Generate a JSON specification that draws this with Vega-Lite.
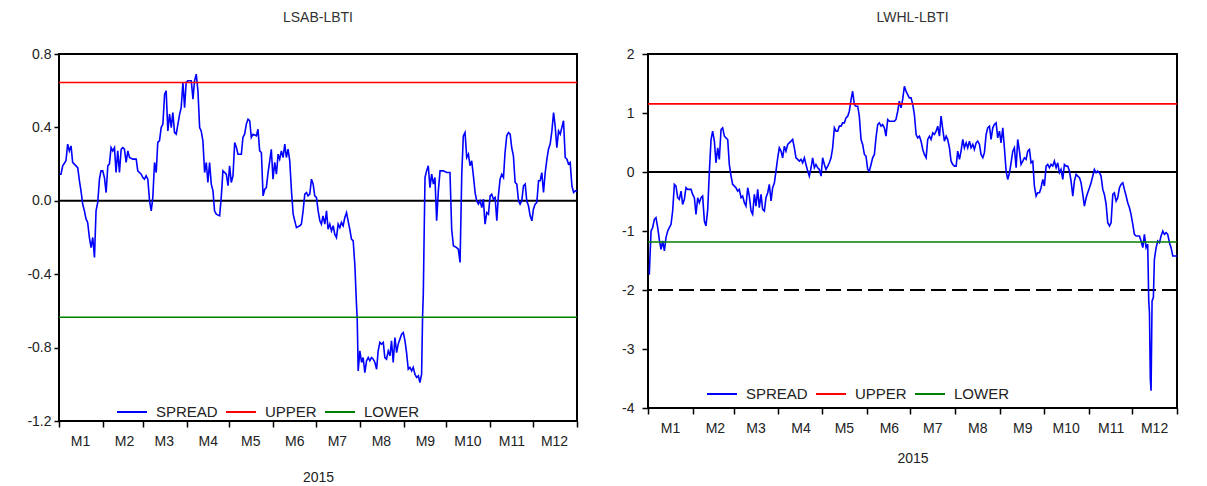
{
  "$schema": "https://vega.github.io/schema/vega-lite/v6.json",
  "padding": {"left": 5, "top": 10, "right": 5, "bottom": 0},
  "spacing": 18,
  "align": "none",
  "background": "white",
  "config": {
    "view": {"stroke": "black", "strokeWidth": 2},
    "axis": {"labelFont": "Liberation Sans", "labelFontSize": 14, "labelColor": "#222", "tickColor": "black", "tickWidth": 1.5, "titleFont": "Liberation Sans", "titleFontSize": 14, "titleFontWeight": "normal", "titleColor": "#222", "grid": false, "domain": false},
    "title": {"font": "Liberation Sans", "fontSize": 14, "fontWeight": "normal", "color": "#333"}
  },
  "resolve": {"scale": {"color": "independent"}, "legend": {"color": "independent"}},
  "datasets": {
    "left": [
      {"d":0.5,"v":0.145,"s":"SPREAD"},{"d":1.4,"v":0.145,"s":"SPREAD"},{"d":2.6,"v":0.191,"s":"SPREAD"},{"d":4.9,"v":0.218,"s":"SPREAD"},{"d":6.1,"v":0.309,"s":"SPREAD"},{"d":7.3,"v":0.272,"s":"SPREAD"},{"d":8.5,"v":0.299,"s":"SPREAD"},{"d":9.6,"v":0.209,"s":"SPREAD"},{"d":10.8,"v":0.2,"s":"SPREAD"},{"d":13.2,"v":0.181,"s":"SPREAD"},{"d":14.4,"v":0.109,"s":"SPREAD"},{"d":15.5,"v":0.054,"s":"SPREAD"},{"d":16.7,"v":-0.018,"s":"SPREAD"},{"d":17.9,"v":-0.055,"s":"SPREAD"},{"d":19.1,"v":-0.1,"s":"SPREAD"},{"d":20.2,"v":-0.118,"s":"SPREAD"},{"d":21.4,"v":-0.2,"s":"SPREAD"},{"d":22.6,"v":-0.255,"s":"SPREAD"},{"d":23.8,"v":-0.2,"s":"SPREAD"},{"d":25.0,"v":-0.309,"s":"SPREAD"},{"d":26.1,"v":-0.055,"s":"SPREAD"},{"d":27.3,"v":-0.009,"s":"SPREAD"},{"d":28.5,"v":0.118,"s":"SPREAD"},{"d":29.6,"v":0.163,"s":"SPREAD"},{"d":30.8,"v":0.163,"s":"SPREAD"},{"d":32.0,"v":0.127,"s":"SPREAD"},{"d":33.2,"v":0.045,"s":"SPREAD"},{"d":34.4,"v":0.191,"s":"SPREAD"},{"d":35.5,"v":0.2,"s":"SPREAD"},{"d":36.7,"v":0.29,"s":"SPREAD"},{"d":37.9,"v":0.272,"s":"SPREAD"},{"d":39.1,"v":0.29,"s":"SPREAD"},{"d":40.2,"v":0.154,"s":"SPREAD"},{"d":41.4,"v":0.272,"s":"SPREAD"},{"d":42.6,"v":0.154,"s":"SPREAD"},{"d":43.8,"v":0.281,"s":"SPREAD"},{"d":44.9,"v":0.29,"s":"SPREAD"},{"d":46.1,"v":0.281,"s":"SPREAD"},{"d":47.3,"v":0.209,"s":"SPREAD"},{"d":48.5,"v":0.272,"s":"SPREAD"},{"d":49.7,"v":0.236,"s":"SPREAD"},{"d":52.0,"v":0.227,"s":"SPREAD"},{"d":54.4,"v":0.227,"s":"SPREAD"},{"d":55.5,"v":0.163,"s":"SPREAD"},{"d":57.9,"v":0.145,"s":"SPREAD"},{"d":59.1,"v":0.127,"s":"SPREAD"},{"d":60.2,"v":0.118,"s":"SPREAD"},{"d":61.4,"v":0.136,"s":"SPREAD"},{"d":62.6,"v":0.118,"s":"SPREAD"},{"d":63.8,"v":0.0,"s":"SPREAD"},{"d":65.0,"v":-0.055,"s":"SPREAD"},{"d":66.1,"v":0.018,"s":"SPREAD"},{"d":67.3,"v":0.209,"s":"SPREAD"},{"d":68.5,"v":0.154,"s":"SPREAD"},{"d":69.6,"v":0.318,"s":"SPREAD"},{"d":70.8,"v":0.327,"s":"SPREAD"},{"d":72.0,"v":0.399,"s":"SPREAD"},{"d":73.2,"v":0.418,"s":"SPREAD"},{"d":74.4,"v":0.581,"s":"SPREAD"},{"d":75.5,"v":0.599,"s":"SPREAD"},{"d":76.7,"v":0.381,"s":"SPREAD"},{"d":77.9,"v":0.472,"s":"SPREAD"},{"d":79.1,"v":0.399,"s":"SPREAD"},{"d":80.2,"v":0.481,"s":"SPREAD"},{"d":81.4,"v":0.372,"s":"SPREAD"},{"d":82.6,"v":0.363,"s":"SPREAD"},{"d":83.8,"v":0.418,"s":"SPREAD"},{"d":85.0,"v":0.472,"s":"SPREAD"},{"d":86.1,"v":0.508,"s":"SPREAD"},{"d":87.3,"v":0.645,"s":"SPREAD"},{"d":88.5,"v":0.508,"s":"SPREAD"},{"d":89.6,"v":0.645,"s":"SPREAD"},{"d":90.8,"v":0.654,"s":"SPREAD"},{"d":93.2,"v":0.654,"s":"SPREAD"},{"d":94.4,"v":0.554,"s":"SPREAD"},{"d":95.5,"v":0.654,"s":"SPREAD"},{"d":96.7,"v":0.69,"s":"SPREAD"},{"d":97.9,"v":0.599,"s":"SPREAD"},{"d":99.1,"v":0.399,"s":"SPREAD"},{"d":100.2,"v":0.381,"s":"SPREAD"},{"d":101.4,"v":0.327,"s":"SPREAD"},{"d":102.6,"v":0.154,"s":"SPREAD"},{"d":103.8,"v":0.209,"s":"SPREAD"},{"d":104.9,"v":0.1,"s":"SPREAD"},{"d":106.1,"v":0.209,"s":"SPREAD"},{"d":107.3,"v":0.091,"s":"SPREAD"},{"d":108.5,"v":0.054,"s":"SPREAD"},{"d":109.6,"v":-0.055,"s":"SPREAD"},{"d":110.8,"v":-0.073,"s":"SPREAD"},{"d":113.2,"v":-0.082,"s":"SPREAD"},{"d":114.4,"v":0.027,"s":"SPREAD"},{"d":115.5,"v":0.163,"s":"SPREAD"},{"d":117.9,"v":0.145,"s":"SPREAD"},{"d":119.1,"v":0.082,"s":"SPREAD"},{"d":120.2,"v":0.191,"s":"SPREAD"},{"d":121.4,"v":0.1,"s":"SPREAD"},{"d":122.6,"v":0.136,"s":"SPREAD"},{"d":123.8,"v":0.318,"s":"SPREAD"},{"d":125.0,"v":0.29,"s":"SPREAD"},{"d":126.1,"v":0.254,"s":"SPREAD"},{"d":128.5,"v":0.254,"s":"SPREAD"},{"d":129.6,"v":0.345,"s":"SPREAD"},{"d":130.8,"v":0.363,"s":"SPREAD"},{"d":132.0,"v":0.418,"s":"SPREAD"},{"d":133.2,"v":0.445,"s":"SPREAD"},{"d":134.4,"v":0.436,"s":"SPREAD"},{"d":135.5,"v":0.345,"s":"SPREAD"},{"d":136.7,"v":0.363,"s":"SPREAD"},{"d":139.1,"v":0.354,"s":"SPREAD"},{"d":140.2,"v":0.39,"s":"SPREAD"},{"d":141.4,"v":0.272,"s":"SPREAD"},{"d":142.6,"v":0.263,"s":"SPREAD"},{"d":143.8,"v":0.027,"s":"SPREAD"},{"d":145.0,"v":0.063,"s":"SPREAD"},{"d":146.1,"v":0.072,"s":"SPREAD"},{"d":147.3,"v":0.154,"s":"SPREAD"},{"d":148.5,"v":0.218,"s":"SPREAD"},{"d":149.6,"v":0.281,"s":"SPREAD"},{"d":150.8,"v":0.118,"s":"SPREAD"},{"d":152.0,"v":0.209,"s":"SPREAD"},{"d":153.2,"v":0.145,"s":"SPREAD"},{"d":154.4,"v":0.254,"s":"SPREAD"},{"d":155.5,"v":0.227,"s":"SPREAD"},{"d":156.7,"v":0.272,"s":"SPREAD"},{"d":157.9,"v":0.236,"s":"SPREAD"},{"d":159.1,"v":0.309,"s":"SPREAD"},{"d":160.2,"v":0.236,"s":"SPREAD"},{"d":161.4,"v":0.281,"s":"SPREAD"},{"d":162.6,"v":0.218,"s":"SPREAD"},{"d":163.8,"v":0.054,"s":"SPREAD"},{"d":165.0,"v":-0.073,"s":"SPREAD"},{"d":166.1,"v":-0.109,"s":"SPREAD"},{"d":167.3,"v":-0.146,"s":"SPREAD"},{"d":169.7,"v":-0.136,"s":"SPREAD"},{"d":170.8,"v":-0.127,"s":"SPREAD"},{"d":172.0,"v":-0.055,"s":"SPREAD"},{"d":173.2,"v":0.036,"s":"SPREAD"},{"d":174.4,"v":0.045,"s":"SPREAD"},{"d":175.5,"v":0.027,"s":"SPREAD"},{"d":176.7,"v":0.036,"s":"SPREAD"},{"d":177.9,"v":0.118,"s":"SPREAD"},{"d":179.1,"v":0.091,"s":"SPREAD"},{"d":180.2,"v":0.027,"s":"SPREAD"},{"d":181.4,"v":0.018,"s":"SPREAD"},{"d":182.6,"v":-0.055,"s":"SPREAD"},{"d":183.8,"v":-0.109,"s":"SPREAD"},{"d":184.9,"v":-0.127,"s":"SPREAD"},{"d":186.0,"v":-0.082,"s":"SPREAD"},{"d":187.3,"v":-0.127,"s":"SPREAD"},{"d":188.5,"v":-0.055,"s":"SPREAD"},{"d":189.6,"v":-0.155,"s":"SPREAD"},{"d":190.8,"v":-0.127,"s":"SPREAD"},{"d":192.0,"v":-0.164,"s":"SPREAD"},{"d":193.2,"v":-0.136,"s":"SPREAD"},{"d":194.3,"v":-0.182,"s":"SPREAD"},{"d":195.5,"v":-0.2,"s":"SPREAD"},{"d":196.7,"v":-0.127,"s":"SPREAD"},{"d":197.9,"v":-0.146,"s":"SPREAD"},{"d":199.0,"v":-0.118,"s":"SPREAD"},{"d":200.2,"v":-0.136,"s":"SPREAD"},{"d":201.4,"v":-0.091,"s":"SPREAD"},{"d":202.6,"v":-0.064,"s":"SPREAD"},{"d":203.7,"v":-0.109,"s":"SPREAD"},{"d":204.9,"v":-0.155,"s":"SPREAD"},{"d":206.1,"v":-0.209,"s":"SPREAD"},{"d":207.3,"v":-0.218,"s":"SPREAD"},{"d":208.5,"v":-0.354,"s":"SPREAD"},{"d":209.6,"v":-0.563,"s":"SPREAD"},{"d":210.1,"v":-0.636,"s":"SPREAD"},{"d":210.5,"v":-0.79,"s":"SPREAD"},{"d":210.8,"v":-0.927,"s":"SPREAD"},{"d":212.0,"v":-0.818,"s":"SPREAD"},{"d":213.2,"v":-0.881,"s":"SPREAD"},{"d":214.3,"v":-0.854,"s":"SPREAD"},{"d":215.5,"v":-0.936,"s":"SPREAD"},{"d":216.7,"v":-0.872,"s":"SPREAD"},{"d":217.9,"v":-0.854,"s":"SPREAD"},{"d":219.0,"v":-0.872,"s":"SPREAD"},{"d":220.2,"v":-0.854,"s":"SPREAD"},{"d":221.4,"v":-0.863,"s":"SPREAD"},{"d":222.6,"v":-0.881,"s":"SPREAD"},{"d":223.8,"v":-0.918,"s":"SPREAD"},{"d":224.9,"v":-0.818,"s":"SPREAD"},{"d":226.1,"v":-0.772,"s":"SPREAD"},{"d":227.3,"v":-0.781,"s":"SPREAD"},{"d":228.5,"v":-0.772,"s":"SPREAD"},{"d":229.6,"v":-0.854,"s":"SPREAD"},{"d":230.8,"v":-0.863,"s":"SPREAD"},{"d":232.0,"v":-0.818,"s":"SPREAD"},{"d":233.2,"v":-0.845,"s":"SPREAD"},{"d":234.3,"v":-0.763,"s":"SPREAD"},{"d":235.5,"v":-0.881,"s":"SPREAD"},{"d":236.7,"v":-0.745,"s":"SPREAD"},{"d":237.9,"v":-0.827,"s":"SPREAD"},{"d":239.0,"v":-0.781,"s":"SPREAD"},{"d":240.2,"v":-0.754,"s":"SPREAD"},{"d":241.4,"v":-0.727,"s":"SPREAD"},{"d":242.6,"v":-0.718,"s":"SPREAD"},{"d":243.8,"v":-0.763,"s":"SPREAD"},{"d":244.9,"v":-0.827,"s":"SPREAD"},{"d":246.1,"v":-0.918,"s":"SPREAD"},{"d":247.3,"v":-0.908,"s":"SPREAD"},{"d":248.5,"v":-0.927,"s":"SPREAD"},{"d":249.6,"v":-0.908,"s":"SPREAD"},{"d":250.8,"v":-0.945,"s":"SPREAD"},{"d":252.0,"v":-0.963,"s":"SPREAD"},{"d":253.2,"v":-0.954,"s":"SPREAD"},{"d":254.3,"v":-0.99,"s":"SPREAD"},{"d":255.5,"v":-0.945,"s":"SPREAD"},{"d":256.2,"v":-0.627,"s":"SPREAD"},{"d":256.7,"v":-0.509,"s":"SPREAD"},{"d":257.2,"v":-0.236,"s":"SPREAD"},{"d":257.9,"v":0.127,"s":"SPREAD"},{"d":259.0,"v":0.163,"s":"SPREAD"},{"d":260.2,"v":0.191,"s":"SPREAD"},{"d":261.4,"v":0.072,"s":"SPREAD"},{"d":262.6,"v":0.145,"s":"SPREAD"},{"d":263.8,"v":0.091,"s":"SPREAD"},{"d":264.9,"v":0.127,"s":"SPREAD"},{"d":266.1,"v":-0.109,"s":"SPREAD"},{"d":267.3,"v":0.054,"s":"SPREAD"},{"d":268.5,"v":0.163,"s":"SPREAD"},{"d":270.8,"v":0.163,"s":"SPREAD"},{"d":273.2,"v":0.154,"s":"SPREAD"},{"d":275.5,"v":0.154,"s":"SPREAD"},{"d":276.7,"v":-0.155,"s":"SPREAD"},{"d":277.9,"v":-0.245,"s":"SPREAD"},{"d":280.2,"v":-0.255,"s":"SPREAD"},{"d":281.4,"v":-0.264,"s":"SPREAD"},{"d":282.6,"v":-0.336,"s":"SPREAD"},{"d":283.8,"v":0.145,"s":"SPREAD"},{"d":284.9,"v":0.354,"s":"SPREAD"},{"d":286.1,"v":0.372,"s":"SPREAD"},{"d":287.3,"v":0.236,"s":"SPREAD"},{"d":288.5,"v":0.254,"s":"SPREAD"},{"d":289.6,"v":0.191,"s":"SPREAD"},{"d":290.8,"v":0.218,"s":"SPREAD"},{"d":292.0,"v":0.136,"s":"SPREAD"},{"d":293.2,"v":0.045,"s":"SPREAD"},{"d":294.3,"v":0.0,"s":"SPREAD"},{"d":295.5,"v":-0.018,"s":"SPREAD"},{"d":296.7,"v":0.0,"s":"SPREAD"},{"d":297.9,"v":-0.037,"s":"SPREAD"},{"d":299.0,"v":0.009,"s":"SPREAD"},{"d":300.2,"v":-0.127,"s":"SPREAD"},{"d":301.4,"v":-0.064,"s":"SPREAD"},{"d":302.6,"v":-0.073,"s":"SPREAD"},{"d":303.8,"v":0.027,"s":"SPREAD"},{"d":304.9,"v":0.036,"s":"SPREAD"},{"d":306.1,"v":0.009,"s":"SPREAD"},{"d":307.3,"v":0.018,"s":"SPREAD"},{"d":308.5,"v":-0.109,"s":"SPREAD"},{"d":309.6,"v":0.027,"s":"SPREAD"},{"d":310.8,"v":0.118,"s":"SPREAD"},{"d":312.0,"v":0.145,"s":"SPREAD"},{"d":313.2,"v":0.127,"s":"SPREAD"},{"d":314.3,"v":0.263,"s":"SPREAD"},{"d":315.5,"v":0.354,"s":"SPREAD"},{"d":316.7,"v":0.372,"s":"SPREAD"},{"d":317.9,"v":0.363,"s":"SPREAD"},{"d":319.0,"v":0.29,"s":"SPREAD"},{"d":320.2,"v":0.245,"s":"SPREAD"},{"d":321.4,"v":0.1,"s":"SPREAD"},{"d":322.6,"v":0.091,"s":"SPREAD"},{"d":323.8,"v":0.0,"s":"SPREAD"},{"d":324.9,"v":-0.018,"s":"SPREAD"},{"d":326.1,"v":0.0,"s":"SPREAD"},{"d":327.3,"v":0.082,"s":"SPREAD"},{"d":328.5,"v":0.091,"s":"SPREAD"},{"d":329.6,"v":0.0,"s":"SPREAD"},{"d":330.8,"v":-0.027,"s":"SPREAD"},{"d":332.0,"v":-0.082,"s":"SPREAD"},{"d":333.2,"v":-0.109,"s":"SPREAD"},{"d":334.3,"v":-0.046,"s":"SPREAD"},{"d":335.5,"v":-0.018,"s":"SPREAD"},{"d":336.7,"v":-0.009,"s":"SPREAD"},{"d":337.9,"v":0.109,"s":"SPREAD"},{"d":339.0,"v":0.109,"s":"SPREAD"},{"d":340.2,"v":0.154,"s":"SPREAD"},{"d":341.4,"v":0.045,"s":"SPREAD"},{"d":342.6,"v":0.154,"s":"SPREAD"},{"d":343.8,"v":0.227,"s":"SPREAD"},{"d":344.9,"v":0.281,"s":"SPREAD"},{"d":346.1,"v":0.309,"s":"SPREAD"},{"d":347.3,"v":0.381,"s":"SPREAD"},{"d":348.5,"v":0.481,"s":"SPREAD"},{"d":349.6,"v":0.409,"s":"SPREAD"},{"d":350.8,"v":0.29,"s":"SPREAD"},{"d":352.0,"v":0.381,"s":"SPREAD"},{"d":353.2,"v":0.363,"s":"SPREAD"},{"d":354.3,"v":0.399,"s":"SPREAD"},{"d":355.5,"v":0.436,"s":"SPREAD"},{"d":356.7,"v":0.236,"s":"SPREAD"},{"d":357.9,"v":0.227,"s":"SPREAD"},{"d":359.0,"v":0.2,"s":"SPREAD"},{"d":360.2,"v":0.209,"s":"SPREAD"},{"d":361.4,"v":0.082,"s":"SPREAD"},{"d":362.6,"v":0.045,"s":"SPREAD"},{"d":363.8,"v":0.054,"s":"SPREAD"},{"d":365,"v":0.054,"s":"SPREAD"},
      {"d":0,"v":0.645,"s":"UPPER"},{"d":365,"v":0.645,"s":"UPPER"},
      {"d":0,"v":-0.635,"s":"LOWER"},{"d":365,"v":-0.635,"s":"LOWER"}
    ],
    "right": [
      {"d":0.5,"v":-1.73,"s":"SPREAD"},{"d":0.9,"v":-1.73,"s":"SPREAD"},{"d":2.1,"v":-1.0,"s":"SPREAD"},{"d":3.2,"v":-0.944,"s":"SPREAD"},{"d":4.4,"v":-0.802,"s":"SPREAD"},{"d":5.5,"v":-0.774,"s":"SPREAD"},{"d":6.7,"v":-0.944,"s":"SPREAD"},{"d":7.8,"v":-1.141,"s":"SPREAD"},{"d":9.0,"v":-1.31,"s":"SPREAD"},{"d":10.1,"v":-1.169,"s":"SPREAD"},{"d":11.3,"v":-1.338,"s":"SPREAD"},{"d":12.4,"v":-1.113,"s":"SPREAD"},{"d":13.6,"v":-1.0,"s":"SPREAD"},{"d":14.7,"v":-0.944,"s":"SPREAD"},{"d":15.9,"v":-0.887,"s":"SPREAD"},{"d":17.0,"v":-0.661,"s":"SPREAD"},{"d":18.2,"v":-0.21,"s":"SPREAD"},{"d":19.3,"v":-0.239,"s":"SPREAD"},{"d":20.5,"v":-0.436,"s":"SPREAD"},{"d":21.6,"v":-0.464,"s":"SPREAD"},{"d":22.8,"v":-0.323,"s":"SPREAD"},{"d":23.9,"v":-0.549,"s":"SPREAD"},{"d":25.1,"v":-0.464,"s":"SPREAD"},{"d":26.2,"v":-0.267,"s":"SPREAD"},{"d":27.4,"v":-0.295,"s":"SPREAD"},{"d":29.7,"v":-0.295,"s":"SPREAD"},{"d":30.8,"v":-0.38,"s":"SPREAD"},{"d":32.0,"v":-0.436,"s":"SPREAD"},{"d":33.1,"v":-0.718,"s":"SPREAD"},{"d":34.3,"v":-0.436,"s":"SPREAD"},{"d":35.4,"v":-0.52,"s":"SPREAD"},{"d":36.6,"v":-0.436,"s":"SPREAD"},{"d":37.7,"v":-0.408,"s":"SPREAD"},{"d":38.9,"v":-0.831,"s":"SPREAD"},{"d":40.0,"v":-0.915,"s":"SPREAD"},{"d":41.2,"v":-0.633,"s":"SPREAD"},{"d":42.3,"v":-0.013,"s":"SPREAD"},{"d":43.5,"v":0.551,"s":"SPREAD"},{"d":44.6,"v":0.692,"s":"SPREAD"},{"d":45.8,"v":0.523,"s":"SPREAD"},{"d":46.9,"v":0.156,"s":"SPREAD"},{"d":48.1,"v":0.41,"s":"SPREAD"},{"d":49.2,"v":0.213,"s":"SPREAD"},{"d":50.4,"v":0.72,"s":"SPREAD"},{"d":51.5,"v":0.749,"s":"SPREAD"},{"d":52.7,"v":0.607,"s":"SPREAD"},{"d":53.8,"v":0.579,"s":"SPREAD"},{"d":55.0,"v":0.551,"s":"SPREAD"},{"d":56.1,"v":0.128,"s":"SPREAD"},{"d":57.3,"v":-0.069,"s":"SPREAD"},{"d":58.4,"v":-0.21,"s":"SPREAD"},{"d":59.6,"v":-0.239,"s":"SPREAD"},{"d":60.7,"v":-0.267,"s":"SPREAD"},{"d":61.9,"v":-0.323,"s":"SPREAD"},{"d":63.0,"v":-0.295,"s":"SPREAD"},{"d":64.2,"v":-0.436,"s":"SPREAD"},{"d":65.3,"v":-0.408,"s":"SPREAD"},{"d":66.5,"v":-0.52,"s":"SPREAD"},{"d":67.6,"v":-0.577,"s":"SPREAD"},{"d":68.8,"v":-0.267,"s":"SPREAD"},{"d":69.9,"v":-0.408,"s":"SPREAD"},{"d":71.1,"v":-0.661,"s":"SPREAD"},{"d":72.2,"v":-0.718,"s":"SPREAD"},{"d":73.4,"v":-0.38,"s":"SPREAD"},{"d":74.5,"v":-0.577,"s":"SPREAD"},{"d":75.7,"v":-0.295,"s":"SPREAD"},{"d":76.8,"v":-0.605,"s":"SPREAD"},{"d":78.0,"v":-0.38,"s":"SPREAD"},{"d":79.1,"v":-0.633,"s":"SPREAD"},{"d":80.3,"v":-0.661,"s":"SPREAD"},{"d":81.4,"v":-0.436,"s":"SPREAD"},{"d":82.6,"v":-0.352,"s":"SPREAD"},{"d":83.7,"v":-0.21,"s":"SPREAD"},{"d":84.9,"v":-0.492,"s":"SPREAD"},{"d":86.0,"v":-0.267,"s":"SPREAD"},{"d":87.2,"v":-0.182,"s":"SPREAD"},{"d":88.3,"v":0.015,"s":"SPREAD"},{"d":89.5,"v":0.241,"s":"SPREAD"},{"d":90.6,"v":0.41,"s":"SPREAD"},{"d":91.8,"v":0.354,"s":"SPREAD"},{"d":92.9,"v":0.241,"s":"SPREAD"},{"d":94.1,"v":0.438,"s":"SPREAD"},{"d":95.2,"v":0.354,"s":"SPREAD"},{"d":96.4,"v":0.467,"s":"SPREAD"},{"d":98.7,"v":0.523,"s":"SPREAD"},{"d":99.8,"v":0.551,"s":"SPREAD"},{"d":101.0,"v":0.41,"s":"SPREAD"},{"d":102.1,"v":0.241,"s":"SPREAD"},{"d":103.3,"v":0.213,"s":"SPREAD"},{"d":104.4,"v":0.184,"s":"SPREAD"},{"d":105.6,"v":0.213,"s":"SPREAD"},{"d":106.7,"v":0.156,"s":"SPREAD"},{"d":107.9,"v":0.241,"s":"SPREAD"},{"d":109.0,"v":0.128,"s":"SPREAD"},{"d":110.2,"v":0.015,"s":"SPREAD"},{"d":111.3,"v":-0.069,"s":"SPREAD"},{"d":112.5,"v":0.072,"s":"SPREAD"},{"d":113.6,"v":0.241,"s":"SPREAD"},{"d":114.8,"v":0.072,"s":"SPREAD"},{"d":115.9,"v":0.128,"s":"SPREAD"},{"d":117.1,"v":0.072,"s":"SPREAD"},{"d":118.2,"v":0.043,"s":"SPREAD"},{"d":119.4,"v":-0.069,"s":"SPREAD"},{"d":120.5,"v":0.241,"s":"SPREAD"},{"d":121.7,"v":0.128,"s":"SPREAD"},{"d":122.8,"v":0.043,"s":"SPREAD"},{"d":124.0,"v":0.1,"s":"SPREAD"},{"d":125.1,"v":0.156,"s":"SPREAD"},{"d":126.3,"v":0.241,"s":"SPREAD"},{"d":127.4,"v":0.41,"s":"SPREAD"},{"d":128.6,"v":0.749,"s":"SPREAD"},{"d":129.7,"v":0.692,"s":"SPREAD"},{"d":130.9,"v":0.692,"s":"SPREAD"},{"d":132.0,"v":0.777,"s":"SPREAD"},{"d":133.2,"v":0.777,"s":"SPREAD"},{"d":134.3,"v":0.833,"s":"SPREAD"},{"d":135.5,"v":0.833,"s":"SPREAD"},{"d":136.6,"v":0.918,"s":"SPREAD"},{"d":137.8,"v":0.946,"s":"SPREAD"},{"d":138.9,"v":1.03,"s":"SPREAD"},{"d":140.1,"v":1.228,"s":"SPREAD"},{"d":141.2,"v":1.369,"s":"SPREAD"},{"d":142.4,"v":1.143,"s":"SPREAD"},{"d":143.5,"v":1.115,"s":"SPREAD"},{"d":144.7,"v":1.115,"s":"SPREAD"},{"d":145.8,"v":0.946,"s":"SPREAD"},{"d":147.0,"v":0.551,"s":"SPREAD"},{"d":148.1,"v":0.467,"s":"SPREAD"},{"d":149.3,"v":0.297,"s":"SPREAD"},{"d":150.4,"v":0.269,"s":"SPREAD"},{"d":151.6,"v":0.043,"s":"SPREAD"},{"d":152.7,"v":0.015,"s":"SPREAD"},{"d":153.9,"v":0.128,"s":"SPREAD"},{"d":155.0,"v":0.241,"s":"SPREAD"},{"d":156.2,"v":0.297,"s":"SPREAD"},{"d":157.3,"v":0.579,"s":"SPREAD"},{"d":158.5,"v":0.805,"s":"SPREAD"},{"d":159.6,"v":0.833,"s":"SPREAD"},{"d":160.8,"v":0.777,"s":"SPREAD"},{"d":161.9,"v":0.805,"s":"SPREAD"},{"d":163.1,"v":0.749,"s":"SPREAD"},{"d":164.2,"v":0.607,"s":"SPREAD"},{"d":165.4,"v":0.89,"s":"SPREAD"},{"d":166.5,"v":0.861,"s":"SPREAD"},{"d":167.7,"v":0.861,"s":"SPREAD"},{"d":170.0,"v":0.861,"s":"SPREAD"},{"d":171.1,"v":0.89,"s":"SPREAD"},{"d":172.3,"v":1.03,"s":"SPREAD"},{"d":173.4,"v":1.2,"s":"SPREAD"},{"d":174.6,"v":1.087,"s":"SPREAD"},{"d":175.7,"v":1.228,"s":"SPREAD"},{"d":176.9,"v":1.453,"s":"SPREAD"},{"d":178.0,"v":1.369,"s":"SPREAD"},{"d":179.2,"v":1.312,"s":"SPREAD"},{"d":180.3,"v":1.256,"s":"SPREAD"},{"d":181.5,"v":1.256,"s":"SPREAD"},{"d":182.7,"v":1.143,"s":"SPREAD"},{"d":183.8,"v":0.974,"s":"SPREAD"},{"d":185.0,"v":0.636,"s":"SPREAD"},{"d":186.1,"v":0.579,"s":"SPREAD"},{"d":187.3,"v":0.607,"s":"SPREAD"},{"d":188.4,"v":0.523,"s":"SPREAD"},{"d":189.6,"v":0.382,"s":"SPREAD"},{"d":190.7,"v":0.297,"s":"SPREAD"},{"d":191.9,"v":0.241,"s":"SPREAD"},{"d":193.0,"v":0.551,"s":"SPREAD"},{"d":194.2,"v":0.607,"s":"SPREAD"},{"d":195.3,"v":0.551,"s":"SPREAD"},{"d":196.5,"v":0.664,"s":"SPREAD"},{"d":197.6,"v":0.636,"s":"SPREAD"},{"d":198.8,"v":0.692,"s":"SPREAD"},{"d":199.9,"v":0.777,"s":"SPREAD"},{"d":201.1,"v":0.607,"s":"SPREAD"},{"d":202.2,"v":0.946,"s":"SPREAD"},{"d":203.4,"v":0.72,"s":"SPREAD"},{"d":204.5,"v":0.523,"s":"SPREAD"},{"d":205.7,"v":0.607,"s":"SPREAD"},{"d":206.8,"v":0.551,"s":"SPREAD"},{"d":208.0,"v":0.41,"s":"SPREAD"},{"d":209.1,"v":0.184,"s":"SPREAD"},{"d":210.3,"v":0.128,"s":"SPREAD"},{"d":211.4,"v":0.1,"s":"SPREAD"},{"d":212.6,"v":0.1,"s":"SPREAD"},{"d":213.7,"v":0.354,"s":"SPREAD"},{"d":214.9,"v":0.213,"s":"SPREAD"},{"d":216.0,"v":0.354,"s":"SPREAD"},{"d":217.2,"v":0.551,"s":"SPREAD"},{"d":218.3,"v":0.41,"s":"SPREAD"},{"d":219.5,"v":0.495,"s":"SPREAD"},{"d":220.6,"v":0.41,"s":"SPREAD"},{"d":221.8,"v":0.523,"s":"SPREAD"},{"d":222.9,"v":0.41,"s":"SPREAD"},{"d":224.1,"v":0.467,"s":"SPREAD"},{"d":225.2,"v":0.382,"s":"SPREAD"},{"d":226.4,"v":0.495,"s":"SPREAD"},{"d":227.5,"v":0.523,"s":"SPREAD"},{"d":228.7,"v":0.467,"s":"SPREAD"},{"d":229.8,"v":0.297,"s":"SPREAD"},{"d":231.0,"v":0.241,"s":"SPREAD"},{"d":232.1,"v":0.326,"s":"SPREAD"},{"d":233.3,"v":0.636,"s":"SPREAD"},{"d":234.4,"v":0.749,"s":"SPREAD"},{"d":235.6,"v":0.777,"s":"SPREAD"},{"d":236.7,"v":0.551,"s":"SPREAD"},{"d":237.9,"v":0.749,"s":"SPREAD"},{"d":239.0,"v":0.805,"s":"SPREAD"},{"d":240.2,"v":0.833,"s":"SPREAD"},{"d":241.3,"v":0.579,"s":"SPREAD"},{"d":242.5,"v":0.692,"s":"SPREAD"},{"d":243.6,"v":0.495,"s":"SPREAD"},{"d":244.8,"v":0.749,"s":"SPREAD"},{"d":245.9,"v":0.41,"s":"SPREAD"},{"d":247.1,"v":0.015,"s":"SPREAD"},{"d":248.2,"v":-0.126,"s":"SPREAD"},{"d":249.4,"v":-0.013,"s":"SPREAD"},{"d":250.5,"v":0.156,"s":"SPREAD"},{"d":251.7,"v":0.354,"s":"SPREAD"},{"d":252.8,"v":0.41,"s":"SPREAD"},{"d":254.0,"v":0.072,"s":"SPREAD"},{"d":255.1,"v":0.551,"s":"SPREAD"},{"d":256.3,"v":0.354,"s":"SPREAD"},{"d":257.4,"v":0.128,"s":"SPREAD"},{"d":258.6,"v":0.184,"s":"SPREAD"},{"d":259.7,"v":0.241,"s":"SPREAD"},{"d":260.9,"v":0.213,"s":"SPREAD"},{"d":262.0,"v":0.354,"s":"SPREAD"},{"d":263.2,"v":0.382,"s":"SPREAD"},{"d":264.3,"v":0.156,"s":"SPREAD"},{"d":265.5,"v":0.184,"s":"SPREAD"},{"d":266.6,"v":-0.238,"s":"SPREAD"},{"d":267.8,"v":-0.408,"s":"SPREAD"},{"d":268.9,"v":-0.352,"s":"SPREAD"},{"d":270.1,"v":-0.352,"s":"SPREAD"},{"d":271.2,"v":-0.267,"s":"SPREAD"},{"d":272.4,"v":-0.126,"s":"SPREAD"},{"d":273.5,"v":-0.238,"s":"SPREAD"},{"d":274.7,"v":0.1,"s":"SPREAD"},{"d":275.8,"v":0.128,"s":"SPREAD"},{"d":277.0,"v":0.072,"s":"SPREAD"},{"d":278.1,"v":0.128,"s":"SPREAD"},{"d":279.3,"v":0.1,"s":"SPREAD"},{"d":280.4,"v":0.184,"s":"SPREAD"},{"d":281.6,"v":0.072,"s":"SPREAD"},{"d":282.7,"v":0.156,"s":"SPREAD"},{"d":283.9,"v":-0.013,"s":"SPREAD"},{"d":285.0,"v":0.043,"s":"SPREAD"},{"d":286.2,"v":-0.126,"s":"SPREAD"},{"d":287.3,"v":0.128,"s":"SPREAD"},{"d":288.5,"v":0.1,"s":"SPREAD"},{"d":289.6,"v":0.1,"s":"SPREAD"},{"d":290.8,"v":0.015,"s":"SPREAD"},{"d":291.9,"v":-0.154,"s":"SPREAD"},{"d":293.1,"v":-0.408,"s":"SPREAD"},{"d":294.2,"v":-0.154,"s":"SPREAD"},{"d":295.4,"v":-0.041,"s":"SPREAD"},{"d":296.5,"v":-0.069,"s":"SPREAD"},{"d":297.7,"v":-0.097,"s":"SPREAD"},{"d":298.8,"v":-0.182,"s":"SPREAD"},{"d":300.0,"v":-0.38,"s":"SPREAD"},{"d":301.1,"v":-0.577,"s":"SPREAD"},{"d":302.3,"v":-0.436,"s":"SPREAD"},{"d":303.4,"v":-0.352,"s":"SPREAD"},{"d":304.6,"v":-0.267,"s":"SPREAD"},{"d":305.7,"v":-0.182,"s":"SPREAD"},{"d":306.9,"v":-0.069,"s":"SPREAD"},{"d":308.0,"v":0.043,"s":"SPREAD"},{"d":309.2,"v":-0.013,"s":"SPREAD"},{"d":310.3,"v":0.015,"s":"SPREAD"},{"d":311.5,"v":-0.013,"s":"SPREAD"},{"d":312.6,"v":-0.069,"s":"SPREAD"},{"d":313.8,"v":-0.295,"s":"SPREAD"},{"d":314.9,"v":-0.38,"s":"SPREAD"},{"d":316.1,"v":-0.549,"s":"SPREAD"},{"d":317.2,"v":-0.859,"s":"SPREAD"},{"d":318.4,"v":-0.915,"s":"SPREAD"},{"d":319.5,"v":-0.859,"s":"SPREAD"},{"d":320.7,"v":-0.38,"s":"SPREAD"},{"d":321.8,"v":-0.352,"s":"SPREAD"},{"d":323.0,"v":-0.492,"s":"SPREAD"},{"d":324.1,"v":-0.436,"s":"SPREAD"},{"d":325.3,"v":-0.267,"s":"SPREAD"},{"d":326.4,"v":-0.21,"s":"SPREAD"},{"d":327.6,"v":-0.182,"s":"SPREAD"},{"d":328.7,"v":-0.295,"s":"SPREAD"},{"d":329.9,"v":-0.408,"s":"SPREAD"},{"d":331.0,"v":-0.52,"s":"SPREAD"},{"d":332.2,"v":-0.605,"s":"SPREAD"},{"d":333.3,"v":-0.718,"s":"SPREAD"},{"d":334.5,"v":-0.887,"s":"SPREAD"},{"d":335.6,"v":-1.056,"s":"SPREAD"},{"d":336.8,"v":-1.085,"s":"SPREAD"},{"d":337.9,"v":-1.085,"s":"SPREAD"},{"d":339.1,"v":-1.085,"s":"SPREAD"},{"d":340.2,"v":-1.169,"s":"SPREAD"},{"d":341.4,"v":-1.282,"s":"SPREAD"},{"d":342.5,"v":-1.056,"s":"SPREAD"},{"d":343.7,"v":-1.282,"s":"SPREAD"},{"d":344.8,"v":-1.226,"s":"SPREAD"},{"d":345.5,"v":-2.184,"s":"SPREAD"},{"d":346.0,"v":-2.382,"s":"SPREAD"},{"d":346.6,"v":-3.51,"s":"SPREAD"},{"d":347.1,"v":-3.707,"s":"SPREAD"},{"d":347.8,"v":-2.184,"s":"SPREAD"},{"d":348.7,"v":-2.128,"s":"SPREAD"},{"d":349.4,"v":-1.479,"s":"SPREAD"},{"d":350.6,"v":-1.282,"s":"SPREAD"},{"d":351.7,"v":-1.169,"s":"SPREAD"},{"d":352.9,"v":-1.198,"s":"SPREAD"},{"d":354.0,"v":-1.085,"s":"SPREAD"},{"d":355.2,"v":-1.0,"s":"SPREAD"},{"d":356.3,"v":-1.056,"s":"SPREAD"},{"d":357.5,"v":-1.028,"s":"SPREAD"},{"d":358.6,"v":-1.056,"s":"SPREAD"},{"d":359.8,"v":-1.198,"s":"SPREAD"},{"d":360.9,"v":-1.282,"s":"SPREAD"},{"d":362.1,"v":-1.423,"s":"SPREAD"},{"d":365,"v":-1.423,"s":"SPREAD"},
      {"d":0,"v":1.155,"s":"UPPER"},{"d":365,"v":1.155,"s":"UPPER"},
      {"d":0,"v":-1.186,"s":"LOWER"},{"d":365,"v":-1.186,"s":"LOWER"}
    ]
  },
  "hconcat": [
    {
      "width": 518,
      "height": 367,
      "title": {"text": "LSAB-LBTI", "offset": 22},
      "layer": [
        {
          "data": {"values": [{}]},
          "mark": {"type": "rule", "color": "black", "strokeWidth": 2},
          "encoding": {"y": {"datum": 0}}
        },
        {
          "data": {"name": "left"},
          "mark": {"type": "line", "strokeWidth": 1.6},
          "encoding": {
            "x": {"field": "d", "type": "quantitative", "scale": {"domain": [0, 365], "nice": false, "zero": false},
              "axis": {"values": [0,31,59,90,120,151,181,212,243,273,304,334,365], "labelExpr": "datum.value >= 365 ? '' : 'M' + (indexof([0,31,59,90,120,151,181,212,243,273,304,334], datum.value) + 1)", "labelOffset": 21, "labelAlign": "center", "labelFlush": false, "labelOverlap": false, "labelBound": false, "tickSize": 6, "labelPadding": 7, "title": "2015", "titlePadding": 22}},
            "y": {"field": "v", "type": "quantitative", "scale": {"domain": [-1.2, 0.8], "nice": false, "zero": false},
              "axis": {"values": [-1.2,-0.8,-0.4,0,0.4,0.8], "format": ".1f", "labelExpr": "replace(datum.label, '\u2212', '-')", "tickSize": 5, "labelPadding": 3, "title": null, "minExtent": 53, "maxExtent": 53}},
            "color": {"field": "s", "type": "nominal", "scale": {"domain": ["SPREAD","UPPER","LOWER"], "range": ["#0000ff","#ff0000","#008000"]},
              "legend": {"title": null, "orient": "none", "legendX": 57, "legendY": 342, "direction": "horizontal", "symbolType": "stroke", "symbolSize": 900, "symbolStrokeWidth": 2, "labelFont": "Liberation Sans", "labelFontSize": 15, "labelColor": "#222", "labelOffset": 8, "columnPadding": 4, "padding": 0}}
          }
        }
      ]
    },
    {
      "width": 529,
      "height": 354,
      "title": {"text": "LWHL-LBTI", "offset": 22},
      "layer": [
        {
          "data": {"values": [{}]},
          "mark": {"type": "rule", "color": "black", "strokeWidth": 2},
          "encoding": {"y": {"datum": 0}}
        },
        {
          "data": {"values": [{}]},
          "mark": {"type": "rule", "color": "black", "strokeWidth": 2, "strokeDash": [15, 6]},
          "encoding": {"y": {"datum": -2}}
        },
        {
          "data": {"name": "right"},
          "mark": {"type": "line", "strokeWidth": 1.6},
          "encoding": {
            "x": {"field": "d", "type": "quantitative", "scale": {"domain": [0, 365], "nice": false, "zero": false},
              "axis": {"values": [0,31,59,90,120,151,181,212,243,273,304,334,365], "labelExpr": "datum.value >= 365 ? '' : 'M' + (indexof([0,31,59,90,120,151,181,212,243,273,304,334], datum.value) + 1)", "labelOffset": 22, "labelAlign": "center", "labelFlush": false, "labelOverlap": false, "labelBound": false, "tickSize": 6, "labelPadding": 7, "title": "2015", "titlePadding": 16}},
            "y": {"field": "v", "type": "quantitative", "scale": {"domain": [-4, 2], "nice": false, "zero": false},
              "axis": {"values": [-4,-3,-2,-1,0,1,2], "format": "d", "labelExpr": "replace(datum.label, '\u2212', '-')", "tickSize": 6, "labelPadding": 8, "title": null, "minExtent": 30, "maxExtent": 30}},
            "color": {"field": "s", "type": "nominal", "scale": {"domain": ["SPREAD","UPPER","LOWER"], "range": ["#0000ff","#ff0000","#008000"]},
              "legend": {"title": null, "orient": "none", "legendX": 58, "legendY": 324, "direction": "horizontal", "symbolType": "stroke", "symbolSize": 900, "symbolStrokeWidth": 2, "labelFont": "Liberation Sans", "labelFontSize": 15, "labelColor": "#222", "labelOffset": 8, "columnPadding": 4, "padding": 0}}
          }
        }
      ]
    }
  ]
}
